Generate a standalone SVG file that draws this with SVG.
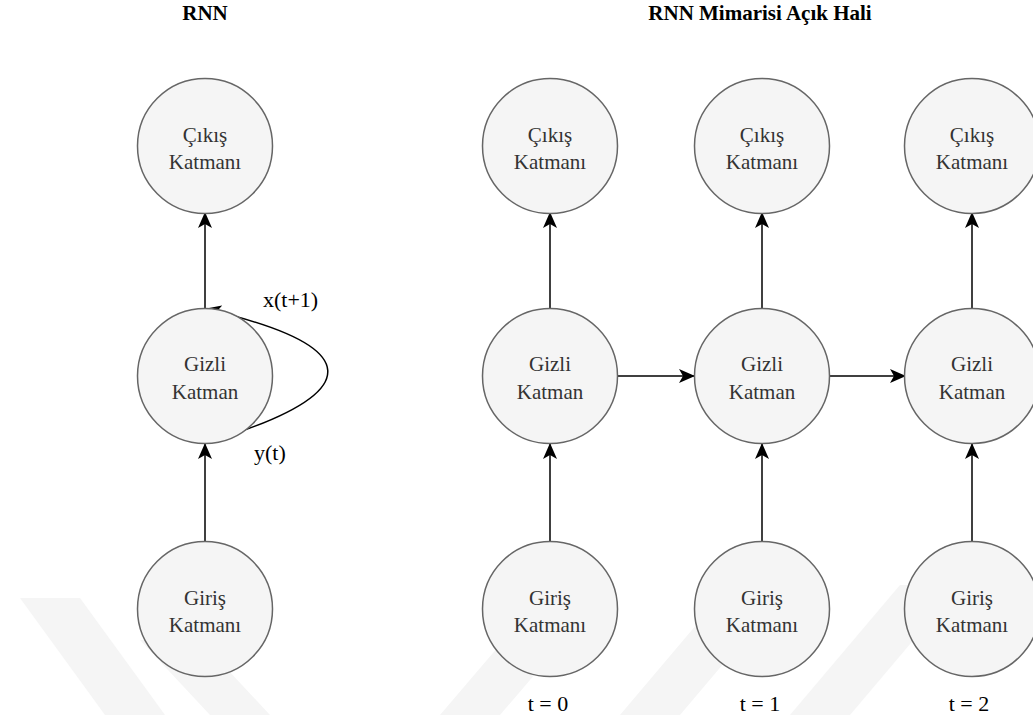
<svg xmlns="http://www.w3.org/2000/svg" width="1033" height="715" viewBox="0 0 1033 715">
<style>
.node circle{fill:#f5f5f5;stroke:#666666;stroke-width:1.5}
.edge{fill:none;stroke:#000000;stroke-width:1.5}
.wm{fill:#f5f5f5}
</style>
<defs>
<marker id="arr" viewBox="0 0 16 14" refX="15" refY="7" markerWidth="16" markerHeight="14" markerUnits="userSpaceOnUse" orient="auto">
<path d="M0,0 L16,7 L0,14 L4,7 Z" fill="#000000"/>
</marker>
</defs>
<rect width="1033" height="715" fill="#ffffff"/>
<g id="watermark">
<polygon class="wm" points="20,598 80,598 165,715 105,715"/>
<polygon class="wm" points="140,640 200,640 270,715 210,715"/>
<polygon class="wm" points="440,715 500,715 600,598 540,598"/>
<polygon class="wm" points="620,715 680,715 790,585 730,585"/>
<polygon class="wm" points="790,715 850,715 960,585 900,585"/>
</g>
<g font-family="'Liberation Serif', 'Times New Roman', Times, serif" font-size="21" font-weight="bold" fill="#000000" text-anchor="middle">
<text x="205" y="20">RNN</text>
<text x="760" y="20">RNN Mimarisi Açık Hali</text>
</g>
<g id="connectors">
<line class="edge" x1="205" y1="541" x2="205" y2="444" marker-end="url(#arr)"/>
<line class="edge" x1="205" y1="309" x2="205" y2="213" marker-end="url(#arr)"/>
<path class="edge" d="M205,443 C375,392 362,345 206,309" marker-end="url(#arr)"/>
<line class="edge" x1="550" y1="541" x2="550" y2="444" marker-end="url(#arr)"/>
<line class="edge" x1="550" y1="309" x2="550" y2="213" marker-end="url(#arr)"/>
<line class="edge" x1="762" y1="541" x2="762" y2="444" marker-end="url(#arr)"/>
<line class="edge" x1="762" y1="309" x2="762" y2="213" marker-end="url(#arr)"/>
<line class="edge" x1="972" y1="541" x2="972" y2="444" marker-end="url(#arr)"/>
<line class="edge" x1="972" y1="309" x2="972" y2="213" marker-end="url(#arr)"/>
<line class="edge" x1="618" y1="376" x2="694" y2="376" marker-end="url(#arr)"/>
<line class="edge" x1="830" y1="376" x2="905" y2="376" marker-end="url(#arr)"/>
</g>
<g font-family="'Liberation Serif', 'Times New Roman', Times, serif" font-size="22" fill="#000000">
<text x="263" y="307">x(t+1)</text>
<text x="254" y="460">y(t)</text>
<text x="548" y="711" text-anchor="middle">t = 0</text>
<text x="760" y="711" text-anchor="middle">t = 1</text>
<text x="969" y="711" text-anchor="middle">t = 2</text>
</g>
<g font-family="'Liberation Serif', 'Times New Roman', Times, serif" font-size="21" fill="#333333" text-anchor="middle">
<g id="out0" class="node"><circle cx="205" cy="146" r="67.5"/><text x="205" y="142">Çıkış</text><text x="205" y="169">Katmanı</text></g>
<g id="hid0" class="node"><circle cx="205" cy="376" r="67.5"/><text x="205" y="371">Gizli</text><text x="205" y="399">Katman</text></g>
<g id="in0" class="node"><circle cx="205" cy="609" r="67.5"/><text x="205" y="605">Giriş</text><text x="205" y="632">Katmanı</text></g>
<g id="out1" class="node"><circle cx="550" cy="146" r="67.5"/><text x="550" y="142">Çıkış</text><text x="550" y="169">Katmanı</text></g>
<g id="hid1" class="node"><circle cx="550" cy="376" r="67.5"/><text x="550" y="371">Gizli</text><text x="550" y="399">Katman</text></g>
<g id="in1" class="node"><circle cx="550" cy="609" r="67.5"/><text x="550" y="605">Giriş</text><text x="550" y="632">Katmanı</text></g>
<g id="out2" class="node"><circle cx="762" cy="146" r="67.5"/><text x="762" y="142">Çıkış</text><text x="762" y="169">Katmanı</text></g>
<g id="hid2" class="node"><circle cx="762" cy="376" r="67.5"/><text x="762" y="371">Gizli</text><text x="762" y="399">Katman</text></g>
<g id="in2" class="node"><circle cx="762" cy="609" r="67.5"/><text x="762" y="605">Giriş</text><text x="762" y="632">Katmanı</text></g>
<g id="out3" class="node"><circle cx="972" cy="146" r="67.5"/><text x="972" y="142">Çıkış</text><text x="972" y="169">Katmanı</text></g>
<g id="hid3" class="node"><circle cx="972" cy="376" r="67.5"/><text x="972" y="371">Gizli</text><text x="972" y="399">Katman</text></g>
<g id="in3" class="node"><circle cx="972" cy="609" r="67.5"/><text x="972" y="605">Giriş</text><text x="972" y="632">Katmanı</text></g>
</g>
</svg>
